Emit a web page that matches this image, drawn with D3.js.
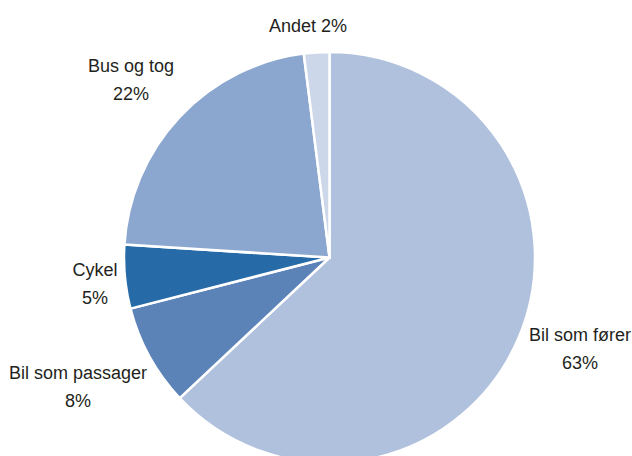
<!DOCTYPE html>
<html>
<head>
<meta charset="utf-8">
<script src="https://cdn.jsdelivr.net/npm/d3@7/dist/d3.min.js"></script>
<style>
  html, body { margin: 0; padding: 0; background: #ffffff; }
  svg { display: block; }
  text { font-family: "Liberation Sans", Arial, sans-serif; font-size: 18px; fill: #231f20; }
</style>
</head>
<body>
<script>
// Transport mode shares, clockwise from 12 o'clock
const categories = ["Bil som fører", "Bil som passager", "Cykel", "Bus og tog", "Andet"];
const shares = [63, 8, 5, 22, 2];
const colors = ["#b0c1de", "#5b83b8", "#276aa8", "#8ba7cf", "#ccd7e9"];
// Label centre x and first-line baseline
const labelX = [580, 78, 95, 131, 308];
const labelY = [341, 379, 276, 72, 32];
const singleLine = [false, false, false, false, true];

const width = 632, height = 456;
const cx = 329.5, cy = 257.5, radius = 205.5;
const lineGap = 28;

const svg = d3.select("body").append("svg")
  .attr("width", width).attr("height", height);

const pie = d3.pie().sort(null).value(d => d.value);
const arc = d3.arc().innerRadius(0).outerRadius(radius);

const data = categories.map((c, i) => ({ name: c, value: shares[i], color: colors[i] }));

const g = svg.append("g").attr("transform", `translate(${cx},${cy})`);
g.selectAll("path")
  .data(pie(data))
  .join("path")
  .attr("d", arc)
  .attr("fill", d => d.data.color)
  .attr("stroke", "#ffffff")
  .attr("stroke-width", 2.5)
  .attr("stroke-linejoin", "round");

// Labels: name over percentage, except the small slice which is on one line
data.forEach((d, i) => {
  if (singleLine[i]) {
    svg.append("text")
      .attr("x", labelX[i]).attr("y", labelY[i])
      .attr("text-anchor", "middle")
      .text(`${d.name} ${d.value}%`);
  } else {
    svg.append("text")
      .attr("x", labelX[i]).attr("y", labelY[i])
      .attr("text-anchor", "middle")
      .text(d.name);
    svg.append("text")
      .attr("x", labelX[i]).attr("y", labelY[i] + lineGap)
      .attr("text-anchor", "middle")
      .text(`${d.value}%`);
  }
});
</script>
</body>
</html>
